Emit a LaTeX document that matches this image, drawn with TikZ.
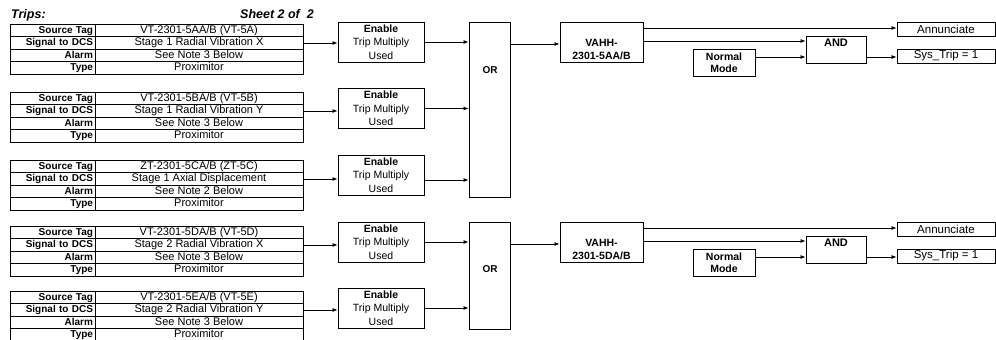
\documentclass[tikz,border=0pt]{standalone}
\usepackage{fontspec}
\setmainfont{Liberation Sans}
\usetikzlibrary{arrows.meta,calc}
\tikzset{
  box/.style={draw, line width=0.9pt, inner sep=0pt, align=center},
  lab/.style={draw, line width=0.8pt, minimum width=85pt, minimum height=12.5pt,
    text width=81pt, align=right, inner xsep=2pt, inner ysep=0pt,
    font=\fontsize{10}{11}\selectfont\bfseries, text height=7.2pt, text depth=2pt},
  val/.style={draw, line width=0.8pt, minimum width=208pt, minimum height=12.5pt,
    inner sep=0pt, font=\fontsize{11}{12}\selectfont, text height=7.8pt, text depth=2.2pt},
  ebox/.style={box, minimum width=86pt, minimum height=40pt, font=\fontsize{10.5}{13.5}\selectfont},
  bt/.style={inner sep=0pt, align=center, font=\fontsize{10.5}{13}\selectfont\bfseries},
  obox/.style={box, minimum width=98pt, minimum height=14pt, font=\fontsize{11.5}{12}\selectfont},
  arr/.style={line width=0.8pt, -{Latex[length=5pt,width=4pt]}}
}
% name, signal row y, tag, signal, alarm
\newcommand{\triptable}[5]{%
  \node[lab] (#1a) at (52.5,#2-12.5) {Source Tag};
  \node[val] (#1b) at (199,#2-12.5) {#3};
  \node[lab] (#1c) at (52.5,#2) {Signal to DCS};
  \node[val] (#1d) at (199,#2) {#4};
  \node[lab] (#1e) at (52.5,#2+12.5) {Alarm};
  \node[val] (#1f) at (199,#2+12.5) {#5};
  \node[lab] (#1g) at (52.5,#2+25) {Type};
  \node[val] (#1h) at (199,#2+25) {Proximitor};
}
% prefix, dy, vahh node
\newcommand{\outgroup}[3]{%
  \node[obox] (#1an) at (946,29+#2) {Annunciate};
  \node[obox] (#1st) at (946,56+#2) {Sys\_Trip = 1};
  \node[box, minimum width=60pt, minimum height=27pt] (#1and) at (836,49.5+#2) {};
  \node[bt, font=\fontsize{11}{12}\selectfont\bfseries] (#1andt) at (836,43+#2) {AND};
  \node[box, minimum width=62pt, minimum height=27pt, font=\fontsize{10.5}{12}\selectfont\bfseries] (#1nm) at (724,62.5+#2) {Normal\\Mode};
  \draw[arr] (#3.east |- 0,28+#2) -- (#1an.west |- 0,28+#2);
  \draw[arr] (#3.east |- 0,41+#2) -- (#1and.west |- 0,41+#2);
  \draw[arr] (#1nm.east |- 0,57+#2) -- (#1and.west |- 0,57+#2);
  \draw[arr] (#1and.east |- 0,57+#2) -- (#1st.west |- 0,57+#2);
}
\begin{document}
\begin{tikzpicture}[x=1pt,y=-1pt]
\useasboundingbox (0,0) rectangle (996,340);
\node[anchor=base west, inner sep=0pt, font=\fontsize{12.5}{13}\selectfont\bfseries\itshape] (trips) at (11,19) {Trips:};
\node[anchor=base east, inner sep=0pt, font=\fontsize{12.5}{13}\selectfont\bfseries\itshape] (sheet) at (314,19) {Sheet 2 of~~2};

\triptable{t1}{43}{VT-2301-5AA/B (VT-5A)}{Stage 1 Radial Vibration X}{See Note 3 Below}
\triptable{t2}{111}{VT-2301-5BA/B (VT-5B)}{Stage 1 Radial Vibration Y}{See Note 3 Below}
\triptable{t3}{179}{ZT-2301-5CA/B (ZT-5C)}{Stage 1 Axial Displacement}{See Note 2 Below}
\triptable{t4}{245}{VT-2301-5DA/B (VT-5D)}{Stage 2 Radial Vibration X}{See Note 3 Below}
\triptable{t5}{310}{VT-2301-5EA/B (VT-5E)}{Stage 2 Radial Vibration Y}{See Note 3 Below}

\node[ebox] (e1) at (381,42) {\textbf{Enable}\\Trip Multiply\\Used};
\node[ebox] (e2) at (381,108.5) {\textbf{Enable}\\Trip Multiply\\Used};
\node[ebox] (e3) at (381,175) {\textbf{Enable}\\Trip Multiply\\Used};
\node[ebox] (e4) at (381,242) {\textbf{Enable}\\Trip Multiply\\Used};
\node[ebox] (e5) at (381,308) {\textbf{Enable}\\Trip Multiply\\Used};

\foreach \i in {1,...,5}
  \draw[arr] (t\i d.east) -- (t\i d.east -| e\i.west);

\node[box, minimum width=41pt, minimum height=175pt] (or1) at (489.5,109.5) {};
\node[bt, font=\fontsize{10}{11}\selectfont\bfseries] (or1t) at (490,70) {OR};
\node[box, minimum width=41pt, minimum height=107pt] (or2) at (489.5,275.5) {};
\node[bt, font=\fontsize{10}{11}\selectfont\bfseries] (or2t) at (490,269) {OR};

\draw[arr] (e1.east) -- (e1.east -| or1.west);
\draw[arr] (e2.east) -- (e2.east -| or1.west);
\draw[arr] ([yshift=-5pt]e3.east) -- ([yshift=-5pt]e3.east -| or1.west);
\draw[arr] (e4.east) -- (e4.east -| or2.west);
\draw[arr] (e5.east) -- (e5.east -| or2.west);

\node[box, minimum width=83pt, minimum height=40pt] (v1) at (601.5,42) {};
\node[bt] (v1t) at (601.5,49.5) {VAHH-\\2301-5AA/B};
\node[box, minimum width=83pt, minimum height=40pt] (v2) at (601.5,242) {};
\node[bt] (v2t) at (601.5,249.5) {VAHH-\\2301-5DA/B};

\draw[arr] (or1.east |- 0,44) -- (v1.west |- 0,44);
\draw[arr] (or2.east |- 0,244) -- (v2.west |- 0,244);

\outgroup{ga}{0}{v1}
\outgroup{gb}{200}{v2}
\end{tikzpicture}
\end{document}
